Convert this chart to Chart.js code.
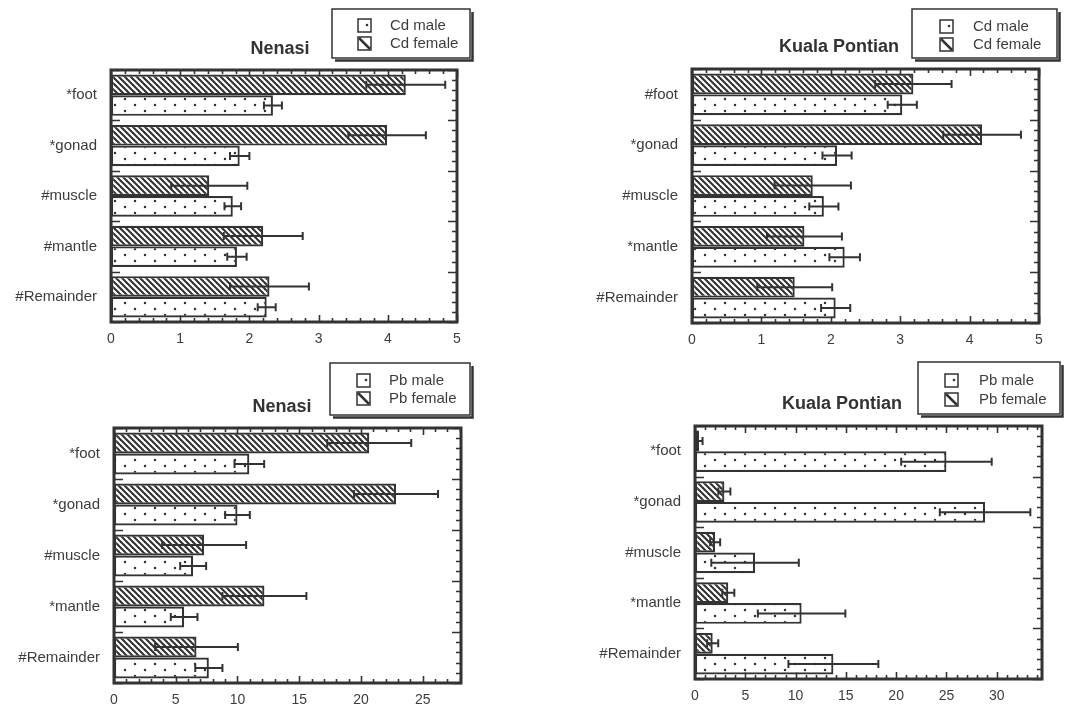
<!DOCTYPE html>
<html>
<head>
<meta charset="utf-8">
<script src="https://cdn.jsdelivr.net/npm/chart.js@4.4.0/dist/chart.umd.min.js"></script>
<style>
body{margin:0;background:#fff;width:1077px;height:707px;overflow:hidden;position:relative}
.box{position:absolute}
canvas{display:block}
</style>
</head>
<body>
<div class="box" style="left:0;top:0"><canvas id="nenasiCd" width="540" height="355"></canvas></div>
<div class="box" style="left:540px;top:0"><canvas id="pontianCd" width="537" height="355"></canvas></div>
<div class="box" style="left:0;top:355px"><canvas id="nenasiPb" width="540" height="352"></canvas></div>
<div class="box" style="left:540px;top:355px"><canvas id="pontianPb" width="537" height="352"></canvas></div>
<script>
// tissue labels per panel
const nenasiCdTissues = ['*foot', '*gonad', '#muscle', '#mantle', '#Remainder'];
const pontianCdTissues = ['#foot', '*gonad', '#muscle', '*mantle', '#Remainder'];
const nenasiPbTissues = ['*foot', '*gonad', '#muscle', '*mantle', '#Remainder'];
const pontianPbTissues = ['*foot', '*gonad', '#muscle', '*mantle', '#Remainder'];

const cdNames = ['Cd male', 'Cd female'];
const pbNames = ['Pb male', 'Pb female'];

// Cd, Nenasi
const nenasiCdMale = [2.34, 1.86, 1.76, 1.82, 2.25];
const nenasiCdMaleErr = [0.13, 0.14, 0.12, 0.14, 0.13];
const nenasiCdFemale = [4.26, 3.99, 1.42, 2.20, 2.29];
const nenasiCdFemaleErr = [0.57, 0.56, 0.55, 0.57, 0.57];

// Cd, Kuala Pontian
const pontianCdMale = [3.03, 2.09, 1.90, 2.20, 2.07];
const pontianCdMaleErr = [0.21, 0.21, 0.21, 0.22, 0.21];
const pontianCdFemale = [3.19, 4.18, 1.74, 1.62, 1.48];
const pontianCdFemaleErr = [0.55, 0.56, 0.55, 0.54, 0.54];

// Pb, Nenasi
const nenasiPbMale = [10.96, 10.0, 6.41, 5.68, 7.68];
const nenasiPbMaleErr = [1.2, 1.0, 1.05, 1.08, 1.1];
const nenasiPbFemale = [20.67, 22.84, 7.3, 12.18, 6.68];
const nenasiPbFemaleErr = [3.4, 3.4, 3.4, 3.4, 3.35];

// Pb, Kuala Pontian
const pontianPbMale = [25.0, 28.84, 5.97, 10.6, 13.76];
const pontianPbMaleErr = [4.5, 4.5, 4.35, 4.35, 4.47];
const pontianPbFemale = [0.4, 2.92, 2.0, 3.31, 1.76];
const pontianPbFemaleErr = [0.35, 0.6, 0.5, 0.6, 0.55];

const cdTicks = [0, 1, 2, 3, 4, 5];
const nenasiPbTicks = [0, 5, 10, 15, 20, 25];
const pontianPbTicks = [0, 5, 10, 15, 20, 25, 30];

const ink = '#333';
const fontFam = '"Liberation Sans", Arial, sans-serif';

function hatchPattern() {
  const c = document.createElement('canvas');
  c.width = 6; c.height = 6;
  const g = c.getContext('2d');
  g.fillStyle = '#fff';
  g.fillRect(0, 0, 6, 6);
  g.strokeStyle = ink;
  g.lineWidth = 2.1;
  for (const o of [-6, 0, 6]) {
    g.beginPath();
    g.moveTo(o - 1, -1);
    g.lineTo(o + 7, 7);
    g.stroke();
  }
  return g.createPattern(c, 'repeat');
}

function dotPattern() {
  const c = document.createElement('canvas');
  c.width = 20; c.height = 12;
  const g = c.getContext('2d');
  g.fillStyle = '#fff';
  g.fillRect(0, 0, 20, 12);
  g.fillStyle = ink;
  [[5, 3], [15, 9]].forEach(([x, y]) => {
    g.beginPath();
    g.arc(x, y, 1.25, 0, Math.PI * 2);
    g.fill();
  });
  return g.createPattern(c, 'repeat');
}

const framePlugin = {
  id: 'frame',
  beforeDatasetsDraw(chart, args, o) {
    const ctx = chart.ctx, a = chart.chartArea, x = chart.scales.x;
    const n = chart.data.labels.length;
    ctx.save();
    ctx.strokeStyle = ink;
    ctx.lineWidth = 1.6;
    ctx.beginPath();
    for (let v = 0; v <= x.max + 1e-9; v += o.minor) {
      const px = Math.round(x.getPixelForValue(v)) + 0.5;
      const r = v / o.major;
      const len = Math.abs(r - Math.round(r)) < 1e-6 ? 7 : 4;
      ctx.moveTo(px, a.bottom); ctx.lineTo(px, a.bottom - len);
      ctx.moveTo(px, a.top); ctx.lineTo(px, a.top + len);
    }
    const band = (a.bottom - a.top) / n;
    for (let i = 0; i <= n * 5; i++) {
      const py = Math.round(a.top + i * band / 5) + 0.5;
      const major = i % 5 === 0;
      ctx.moveTo(a.right, py); ctx.lineTo(a.right - (major ? 9 : 5), py);
      if (major) { ctx.moveTo(a.left, py); ctx.lineTo(a.left + 9, py); }
    }
    ctx.stroke();
    ctx.restore();
  },
  afterDatasetsDraw(chart) {
    const ctx = chart.ctx, x = chart.scales.x, a = chart.chartArea;
    ctx.save();
    ctx.strokeStyle = ink;
    ctx.lineWidth = 2;
    // error bars (mean +/- sd)
    chart.data.datasets.forEach((ds, i) => {
      chart.getDatasetMeta(i).data.forEach((bar, j) => {
        const lo = x.getPixelForValue(ds.data[j] - ds.errors[j]);
        const hi = x.getPixelForValue(ds.data[j] + ds.errors[j]);
        ctx.beginPath();
        ctx.moveTo(lo, bar.y); ctx.lineTo(hi, bar.y);
        ctx.moveTo(lo, bar.y - 4); ctx.lineTo(lo, bar.y + 4);
        ctx.moveTo(hi, bar.y - 4); ctx.lineTo(hi, bar.y + 4);
        ctx.stroke();
      });
    });
    ctx.lineWidth = 3;
    ctx.strokeRect(a.left, a.top, a.right - a.left, a.bottom - a.top);
    ctx.restore();
  },
  afterDraw(chart, args, o) {
    const ctx = chart.ctx;
    ctx.save();
    ctx.fillStyle = '#333';
    ctx.font = 'bold 18px ' + fontFam;
    ctx.textAlign = 'center';
    ctx.textBaseline = 'middle';
    ctx.fillText(o.title, o.titleX, o.titleY);

    // legend box with drop shadow
    const lg = o.legend;
    ctx.strokeStyle = ink;
    ctx.lineWidth = 1.5;
    ctx.strokeRect(lg.x, lg.y, lg.w - 4, lg.h - 4);
    ctx.lineWidth = 2.5;
    ctx.beginPath();
    ctx.moveTo(lg.x + 3, lg.y + lg.h - 1.5);
    ctx.lineTo(lg.x + lg.w - 1.5, lg.y + lg.h - 1.5);
    ctx.lineTo(lg.x + lg.w - 1.5, lg.y + 3);
    ctx.stroke();

    ctx.font = '15px ' + fontFam;
    ctx.textAlign = 'left';
    o.names.forEach((name, k) => {
      const cy = lg.rows[k];
      const ix = lg.iconX;
      ctx.lineWidth = 1.5;
      ctx.strokeStyle = ink;
      ctx.fillStyle = '#fff';
      ctx.fillRect(ix, cy - 7, 13, 13);
      ctx.strokeRect(ix, cy - 7, 13, 13);
      ctx.fillStyle = ink;
      if (k === 0) {
        ctx.beginPath();
        ctx.arc(ix + 9, cy - 1, 1.3, 0, Math.PI * 2);
        ctx.fill();
      } else {
        ctx.lineWidth = 2.5;
        ctx.beginPath();
        ctx.moveTo(ix + 1, cy - 6);
        ctx.lineTo(ix + 12, cy + 5);
        ctx.stroke();
      }
      ctx.fillStyle = '#3d3d3d';
      ctx.fillText(name, lg.textX, cy);
    });
    ctx.restore();
  }
};

function makeChart(id, labels, names, male, maleErr, female, femaleErr, xMax, tickVals, minor, major, pad, deco) {
  return new Chart(document.getElementById(id), {
    type: 'bar',
    data: {
      labels: labels,
      datasets: [
        {
          label: names[1],
          data: female,
          errors: femaleErr,
          backgroundColor: hatchPattern(),
          borderColor: ink,
          borderWidth: 2.2,
          borderSkipped: false,
          categoryPercentage: 0.82,
          barPercentage: 1.0
        },
        {
          label: names[0],
          data: male,
          errors: maleErr,
          backgroundColor: dotPattern(),
          borderColor: ink,
          borderWidth: 2.2,
          borderSkipped: false,
          categoryPercentage: 0.82,
          barPercentage: 1.0
        }
      ]
    },
    options: {
      responsive: false,
      animation: false,
      indexAxis: 'y',
      layout: { padding: pad },
      plugins: {
        legend: { display: false },
        tooltip: { enabled: false },
        frame: Object.assign({ names: names, minor: minor, major: major }, deco)
      },
      scales: {
        x: {
          min: 0,
          max: xMax,
          grid: { display: false, drawTicks: false },
          border: { display: false },
          ticks: { color: '#3d3d3d', font: { family: fontFam, size: 14 }, padding: 9 },
          afterBuildTicks: s => { s.ticks = tickVals.map(v => ({ value: v })); },
          afterFit: s => { s.height = 22; }
        },
        y: {
          grid: { display: false, drawTicks: false },
          border: { display: false },
          ticks: { color: '#3d3d3d', font: { family: fontFam, size: 15 }, padding: 14 },
          afterFit: s => { s.width = 105; }
        }
      }
    },
    plugins: [framePlugin]
  });
}

makeChart('nenasiCd', nenasiCdTissues, cdNames, nenasiCdMale, nenasiCdMaleErr, nenasiCdFemale, nenasiCdFemaleErr,
  5, cdTicks, 0.2, 1, { left: 6, right: 83, top: 70, bottom: 11 },
  { title: 'Nenasi', titleX: 280, titleY: 49,
    legend: { x: 332, y: 9, w: 142, h: 53, iconX: 358, textX: 390, rows: [26, 44] } });

makeChart('pontianCd', pontianCdTissues, cdNames, pontianCdMale, pontianCdMaleErr, pontianCdFemale, pontianCdFemaleErr,
  5, cdTicks, 0.2, 1, { left: 47, right: 38, top: 69, bottom: 10 },
  { title: 'Kuala Pontian', titleX: 299, titleY: 47,
    legend: { x: 372, y: 9, w: 149, h: 53, iconX: 400, textX: 433, rows: [27, 45] } });

makeChart('nenasiPb', nenasiPbTissues, pbNames, nenasiPbMale, nenasiPbMaleErr, nenasiPbFemale, nenasiPbFemaleErr,
  28.1, nenasiPbTicks, 1, 5, { left: 9, right: 79, top: 73, bottom: 2 },
  { title: 'Nenasi', titleX: 282, titleY: 52,
    legend: { x: 330, y: 8, w: 144, h: 56, iconX: 357, textX: 389, rows: [26, 44] } });

makeChart('pontianPb', pontianPbTissues, pbNames, pontianPbMale, pontianPbMaleErr, pontianPbFemale, pontianPbFemaleErr,
  34.5, pontianPbTicks, 1, 5, { left: 50, right: 35, top: 71, bottom: 6 },
  { title: 'Kuala Pontian', titleX: 302, titleY: 49,
    legend: { x: 378, y: 7, w: 146, h: 56, iconX: 405, textX: 439, rows: [26, 45] } });
</script>
</body>
</html>
